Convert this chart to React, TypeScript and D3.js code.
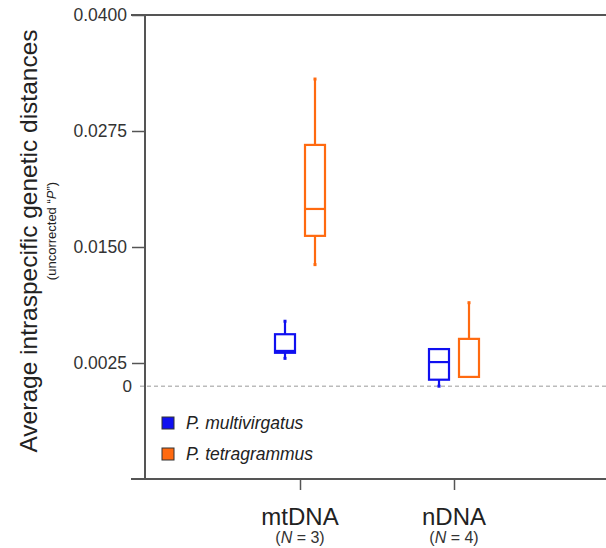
import React, { useEffect, useRef } from 'react';
import * as d3 from 'd3';

// categories and series
const categories = ['mtDNA', 'nDNA'];
const categoryNotes = ['3', '4'];
const series = ['P. multivirgatus', 'P. tetragrammus'];
const colors = ['#1010f0', '#ff6a10'];

// box stats per series, in category order: [whiskerLow, q1, median, q3, whiskerHigh]
const multivirgatus = [
  [0.0030, 0.0036, 0.0038, 0.0056, 0.0070],
  [0.0000, 0.0007, 0.0026, 0.0040, 0.0040],
];
const tetragrammus = [
  [0.0131, 0.0162, 0.0191, 0.0260, 0.0331],
  [0.0010, 0.0010, 0.0010, 0.0051, 0.0090],
];

const yTicks = [0.0025, 0.015, 0.0275, 0.04];

const App = () => {
  const ref = useRef<SVGSVGElement>(null);

  useEffect(() => {
    const svg = d3.select(ref.current);
    svg.selectAll('*').remove();

    const width = 606;
    const left = 145;
    const top = 15;
    const bottom = 479;
    const axisColor = '#555';
    const textColor = '#333';
    const font = 'Liberation Sans, Arial, sans-serif';

    const y = d3.scaleLinear().domain([-0.01, 0.04]).range([bottom, top]);
    const x = d3.scalePoint().domain(categories).range([146, 608]).padding(1);
    const inner = d3.scaleBand().domain(series).range([-30, 30]);

    // zero reference line
    svg.append('line')
      .attr('x1', 140).attr('x2', width)
      .attr('y1', y(0)).attr('y2', y(0))
      .attr('stroke', '#bbb').attr('stroke-width', 1.5)
      .attr('stroke-dasharray', '4,3');
    svg.append('text')
      .attr('x', 132).attr('y', y(0) + 6)
      .attr('text-anchor', 'end')
      .attr('font-family', font).attr('font-size', 17)
      .attr('fill', textColor)
      .text('0');

    // frame lines
    svg.append('line')
      .attr('x1', 131).attr('x2', width).attr('y1', top).attr('y2', top)
      .attr('stroke', axisColor).attr('stroke-width', 2);
    svg.append('line')
      .attr('x1', 131).attr('x2', width).attr('y1', bottom).attr('y2', bottom)
      .attr('stroke', axisColor).attr('stroke-width', 2);

    // y axis
    const yAxis = svg.append('g')
      .attr('transform', `translate(${left},0)`)
      .call(d3.axisLeft(y).tickValues(yTicks).tickSize(13).tickPadding(5)
        .tickFormat(d3.format('.4f')));
    yAxis.select('.domain').remove();
    yAxis.append('line')
      .attr('y1', top).attr('y2', bottom)
      .attr('stroke', axisColor).attr('stroke-width', 2);
    yAxis.selectAll('.tick line').attr('stroke', axisColor).attr('stroke-width', 1.5);
    yAxis.selectAll('.tick text')
      .attr('font-family', font).attr('font-size', 17.5).attr('fill', textColor);

    // x axis ticks and labels
    const xAxis = svg.append('g')
      .attr('transform', `translate(0,${bottom})`)
      .call(d3.axisBottom(x).tickSize(11).tickFormat(() => ''));
    xAxis.select('.domain').remove();
    xAxis.selectAll('.tick line').attr('stroke', axisColor).attr('stroke-width', 1.5);

    categories.forEach((c, i) => {
      svg.append('text')
        .attr('x', x(c)!).attr('y', 525)
        .attr('text-anchor', 'middle')
        .attr('font-family', font).attr('font-size', 24).attr('fill', '#222')
        .text(c);
      const t = svg.append('text')
        .attr('x', x(c)!).attr('y', 543)
        .attr('text-anchor', 'middle')
        .attr('font-family', font).attr('font-size', 16).attr('fill', textColor);
      t.append('tspan').text('(');
      t.append('tspan').attr('font-style', 'italic').text('N');
      t.append('tspan').text(` = ${categoryNotes[i]})`);
    });

    // y title
    svg.append('text')
      .attr('transform', `translate(37,241) rotate(-90)`)
      .attr('text-anchor', 'middle')
      .attr('font-family', font).attr('font-size', 24.5).attr('fill', '#222')
      .text('Average intraspecific genetic distances');
    const sub = svg.append('text')
      .attr('transform', `translate(56,231) rotate(-90)`)
      .attr('text-anchor', 'middle')
      .attr('font-family', font).attr('font-size', 13).attr('fill', '#222');
    sub.append('tspan').text('(uncorrected \u201C');
    sub.append('tspan').attr('font-style', 'italic').text('P');
    sub.append('tspan').text('\u201D)');

    // boxes
    const boxW = 20;
    [multivirgatus, tetragrammus].forEach((data, si) => {
      const color = colors[si];
      data.forEach((d, ci) => {
        const cx = x(categories[ci])! + inner(series[si])! + inner.bandwidth() / 2;
        const [lo, q1, med, q3, hi] = d;
        const g = svg.append('g')
          .attr('stroke', color).attr('stroke-width', 2.2).attr('fill', 'none');
        if (hi > q3) {
          g.append('line').attr('x1', cx).attr('x2', cx).attr('y1', y(q3)).attr('y2', y(hi));
          g.append('line').attr('x1', cx - 1.5).attr('x2', cx + 1.5).attr('y1', y(hi)).attr('y2', y(hi))
            .attr('stroke-width', 3);
        }
        if (lo < q1) {
          g.append('line').attr('x1', cx).attr('x2', cx).attr('y1', y(q1)).attr('y2', y(lo));
          g.append('line').attr('x1', cx - 1.5).attr('x2', cx + 1.5).attr('y1', y(lo)).attr('y2', y(lo))
            .attr('stroke-width', 3);
        }
        g.append('rect')
          .attr('x', cx - boxW / 2).attr('width', boxW)
          .attr('y', y(q3)).attr('height', y(q1) - y(q3))
          .attr('fill', 'white');
        if (med > q1 && med < q3) {
          g.append('line')
            .attr('x1', cx - boxW / 2).attr('x2', cx + boxW / 2)
            .attr('y1', y(med)).attr('y2', y(med));
        }
      });
    });

    // legend
    series.forEach((s, i) => {
      const ly = 417 + i * 31;
      svg.append('rect')
        .attr('x', 162).attr('y', ly).attr('width', 12).attr('height', 12)
        .attr('fill', colors[i]).attr('stroke', '#333').attr('stroke-width', 1);
      svg.append('text')
        .attr('x', 186).attr('y', ly + 12)
        .attr('font-family', font).attr('font-size', 17.5).attr('font-style', 'italic')
        .attr('fill', '#222')
        .text(s);
    });
  }, []);

  return (
    <svg ref={ref} width={606} height={548}
      style={{ position: 'absolute', left: 0, top: 0, background: 'white' }} />
  );
};

export default App;
